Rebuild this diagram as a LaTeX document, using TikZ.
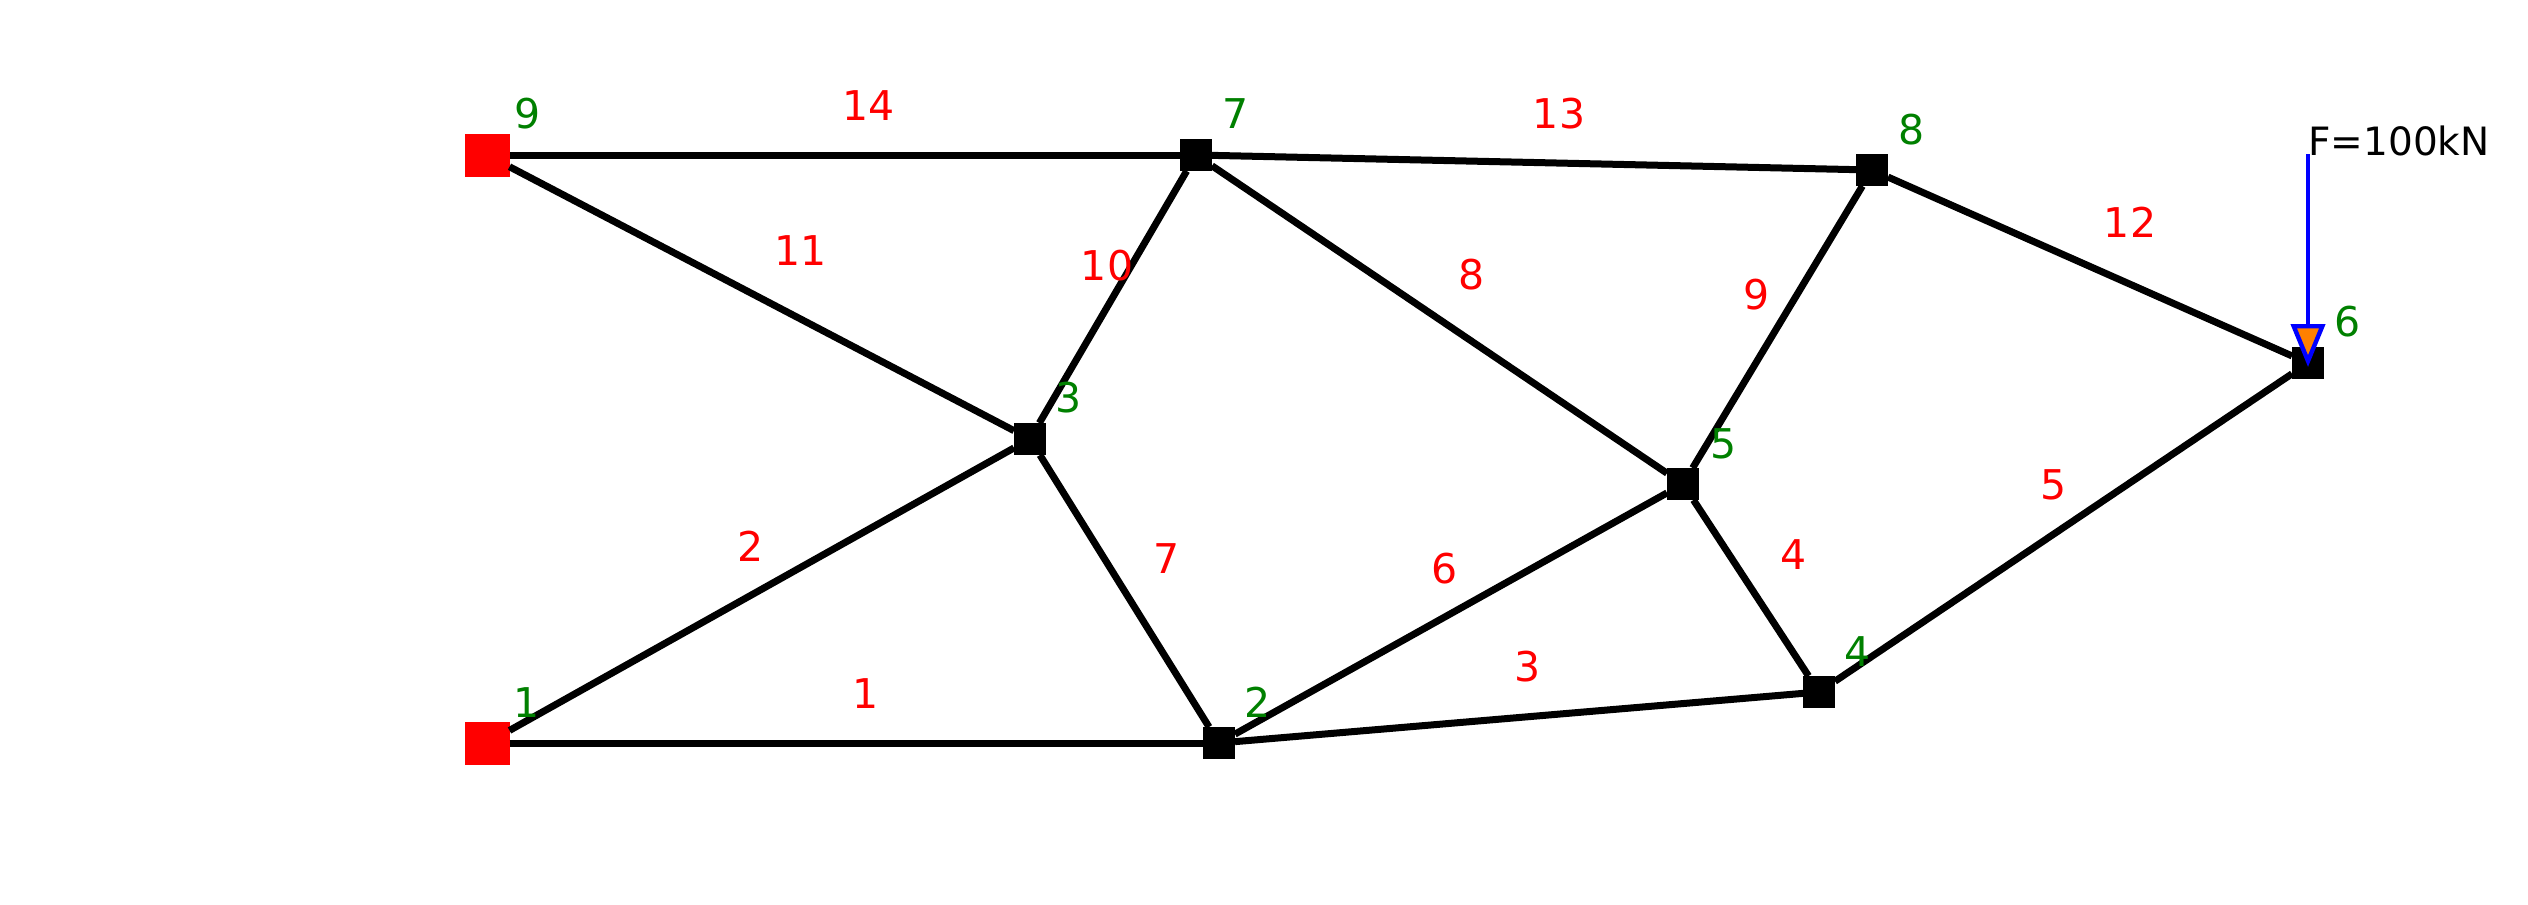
\documentclass[tikz,border=0pt]{standalone}
\usepackage{fontspec}
\setmainfont{DejaVu Sans}
\usetikzlibrary{arrows.meta}
\definecolor{nodegreen}{RGB}{0,128,0}
\tikzset{
  px/.style={x=0.5pt,y=-0.5pt},
  joint/.style={draw=none,fill=black,minimum size=16pt,inner sep=0pt,outer sep=0pt,rectangle},
  support/.style={draw=none,fill=red,minimum width=22.5pt,minimum height=21.5pt,inner sep=0pt,outer sep=0pt,rectangle},
  member/.style={draw=black,line width=3.5pt},
  nlabel/.style={text=nodegreen,font=\fontsize{20.5}{20.5}\selectfont,inner sep=0pt},
  mlabel/.style={text=red,font=\fontsize{20.5}{20.5}\selectfont,inner sep=0pt},
  load/.style={draw=blue,line width=2.2pt,-{Triangle[length=21.5pt,width=17pt,fill=orange,line width=2.2pt]}}
}
\begin{document}
\begin{tikzpicture}[px]
\useasboundingbox (0,0) rectangle (2528,905);
\node[support] (n1) at (487,743) {};
\node[joint] (n2) at (1219,743) {};
\node[joint] (n3) at (1030,439) {};
\node[joint] (n4) at (1819,692) {};
\node[joint] (n5) at (1683,484) {};
\node[joint] (n6) at (2308,363) {};
\node[joint] (n7) at (1196,155) {};
\node[joint] (n8) at (1872,170) {};
\node[support] (n9) at (487,155) {};
\draw[member] (n1) -- (n2);
\draw[member] (n1) -- (n3);
\draw[member] (n2) -- (n4);
\draw[member] (n4) -- (n5);
\draw[member] (n4) -- (n6);
\draw[member] (n2) -- (n5);
\draw[member] (n2) -- (n3);
\draw[member] (n5) -- (n7);
\draw[member] (n5) -- (n8);
\draw[member] (n3) -- (n7);
\draw[member] (n3) -- (n9);
\draw[member] (n6) -- (n8);
\draw[member] (n7) -- (n8);
\draw[member] (n7) -- (n9);
\coordinate (ftop) at (2308,154);
\coordinate (ftip) at (2308,367);
\draw[load] (ftop) -- (ftip);
\node[inner sep=0pt,anchor=base west,font=\fontsize{19.5}{19.5}\selectfont] (ftext) at (2308,155) {F=100kN};
\node[nlabel] (l1) at (527,703) {1};
\node[nlabel] (l2) at (1258,702) {2};
\node[nlabel] (l3) at (1069,398) {3};
\node[nlabel] (l4) at (1858,652) {4};
\node[nlabel] (l5) at (1724,444) {5};
\node[nlabel] (l6) at (2348,322) {6};
\node[nlabel] (l7) at (1236,114) {7};
\node[nlabel] (l8) at (1912,130) {8};
\node[nlabel] (l9) at (528,114) {9};
\node[mlabel] (m1) at (866,694) {1};
\node[mlabel] (m2) at (751,546) {2};
\node[mlabel] (m3) at (1528,667) {3};
\node[mlabel] (m4) at (1794,555) {4};
\node[mlabel] (m5) at (2054,485) {5};
\node[mlabel] (m6) at (1445,569) {6};
\node[mlabel] (m7) at (1167,559) {7};
\node[mlabel] (m8) at (1472,275) {8};
\node[mlabel] (m9) at (1757,295) {9};
\node[mlabel] (m10) at (1107,266) {10};
\node[mlabel] (m11) at (801,251) {11};
\node[mlabel] (m12) at (2130,222) {12};
\node[mlabel] (m13) at (1559,114) {13};
\node[mlabel] (m14) at (869,106) {14};
\end{tikzpicture}
\end{document}
